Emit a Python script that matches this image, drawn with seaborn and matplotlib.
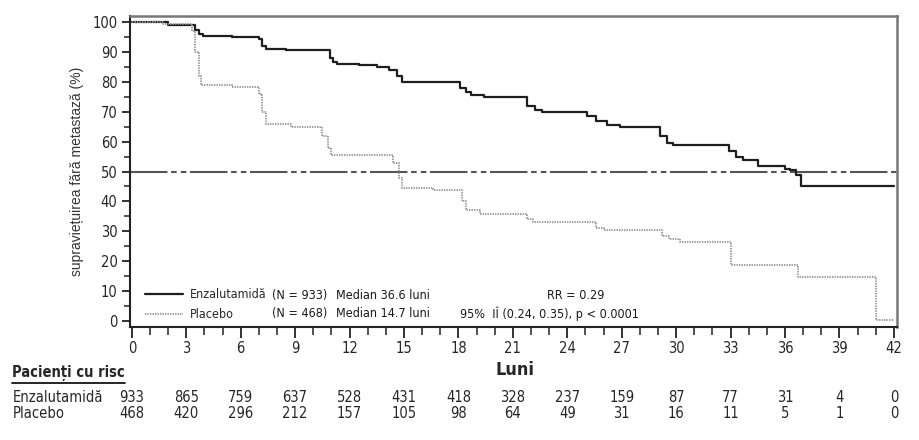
import matplotlib
matplotlib.use("Agg")
import matplotlib.pyplot as plt
import seaborn as sns
import pandas as pd
from matplotlib.lines import Line2D
from matplotlib.ticker import MultipleLocator

# ---- Data ----
enza_t = [0, 2.0, 3.5, 3.7, 3.9, 5.5, 7.0, 7.2, 7.4, 8.5, 10.9, 11.1, 11.3, 12.5, 13.5,
          14.2, 14.6, 14.9, 18.1, 18.4, 18.7, 19.4, 21.8, 22.2, 22.6, 25.1, 25.6, 26.2,
          26.9, 29.1, 29.5, 29.8, 32.9, 33.3, 33.7, 34.5, 36.0, 36.3, 36.6, 36.9, 42.0]
enza_s = [100, 99, 97.5, 96, 95.3, 95, 94.2, 92, 91, 90.6, 88, 86.5, 86.1, 85.5, 85,
          84, 82, 80.1, 78, 76.5, 75.6, 74.8, 72, 70.5, 69.8, 68.5, 67, 65.5,
          64.8, 62, 59.5, 58.9, 57, 55, 54, 52, 51, 50.6, 48.7, 45.3, 45.3]

plac_t = [0, 1.7, 3.3, 3.5, 3.7, 3.8, 5.5, 7.0, 7.2, 7.4, 8.8, 10.5, 10.8, 11.0, 14.4,
          14.7, 14.9, 16.6, 18.2, 18.4, 19.2, 21.8, 22.1, 25.6, 26.0, 29.2, 29.6, 30.2,
          33.0, 36.7, 41.0, 42.0]
plac_s = [100, 99.3, 97, 90, 82, 79, 78.3, 76, 70, 66, 64.8, 62, 58, 55.7, 53,
          48, 44.5, 43.7, 40, 37, 35.9, 34, 33.1, 31, 30.3, 28.5, 27.6, 26.4,
          18.7, 14.8, 0.2, 0.2]

risk_months = list(range(0, 43, 3))
risk_enza = [933, 865, 759, 637, 528, 431, 418, 328, 237, 159, 87, 77, 31, 4, 0]
risk_plac = [468, 420, 296, 212, 157, 105, 98, 64, 49, 31, 16, 11, 5, 1, 0]

df_enza = pd.DataFrame({"luni": enza_t, "supr": enza_s})
df_plac = pd.DataFrame({"luni": plac_t, "supr": plac_s})

# ---- Style ----
sns.set_style("white")
plt.rcParams["font.family"] = ["DejaVu Sans"]
plt.rcParams["font.stretch"] = "condensed"
plt.rcParams["lines.scale_dashes"] = False

W, H = 919, 440
fig = plt.figure(figsize=(W / 100, H / 100), dpi=100)
ax = fig.add_axes([130 / W, 1 - 327 / H, (897 - 130) / W, (327 - 15.5) / H])

sns.lineplot(data=df_enza, x="luni", y="supr", drawstyle="steps-post", color="#1e1e1e",
             linewidth=1.6, ax=ax, label="Enzalutamidă", estimator=None)
sns.lineplot(data=df_plac, x="luni", y="supr", drawstyle="steps-post", color="#959595",
             linewidth=1.3, linestyle=(0, (1, 0.8)), ax=ax, label="Placebo", estimator=None)

# median reference line
ax.axhline(50, color="#555555", linewidth=1.5, dashes=(27, 2.6, 4, 3, 4, 2.6), zorder=1)

ax.set_xlim(-0.1, 42.17)
ax.set_ylim(-2.0, 102.2)
ax.xaxis.set_major_locator(MultipleLocator(3))
ax.xaxis.set_minor_locator(MultipleLocator(1))
ax.yaxis.set_major_locator(MultipleLocator(10))
ax.yaxis.set_minor_locator(MultipleLocator(5))
ax.tick_params(axis="x", which="major", direction="out", length=8, width=1.3,
               color="#222222", labelsize=10.5, pad=2)
ax.tick_params(axis="x", which="minor", direction="out", length=6, width=1.1, color="#222222")
ax.tick_params(axis="y", which="major", direction="out", length=6, width=1.3,
               color="#222222", labelsize=10.5, pad=3)
ax.tick_params(axis="y", which="minor", direction="out", length=4, width=1.1, color="#222222")
ax.tick_params(left=True, bottom=True, which="both")

for side in ["left", "bottom"]:
    ax.spines[side].set_color("#222222")
    ax.spines[side].set_linewidth(1.5)
for side in ["top", "right"]:
    ax.spines[side].set_color("#777777")
    ax.spines[side].set_linewidth(1.8)

ax.set_ylabel("supraviețuirea fără metastază (%)", family=["Liberation Sans", "DejaVu Sans"],
              stretch="normal", fontsize=10, color="#333333")
ax.yaxis.set_label_coords(-0.06, 0.5)
ax.set_xlabel("Luni", fontsize=13, fontweight="bold")
ax.xaxis.set_label_coords(0.502, -0.11)

# legend
handles = ax.get_lines()[:2]
leg = ax.legend(handles=handles, labels=["Enzalutamidă", "Placebo"], loc="center left",
                bbox_to_anchor=(0.0196, 0.0722), frameon=False, fontsize=9,
                handlelength=3.0, handletextpad=0.6, labelspacing=0.55,
                borderpad=0, borderaxespad=0)

txt_kw = dict(fontsize=9, va="center", ha="left", color="#1a1a1a")
ax.text(7.75, 8.7, "(N = 933)", **txt_kw)
ax.text(7.75, 2.35, "(N = 468)", **txt_kw)
ax.text(11.28, 8.7, "Median 36.6 luni", **txt_kw)
ax.text(11.28, 2.35, "Median 14.7 luni", **txt_kw)
ax.text(22.9, 8.7, "RR = 0.29", **txt_kw)
ax.text(18.1, 2.35, "95%  IÎ (0.24, 0.35), p < 0.0001", **txt_kw)

# ---- Risk table ----
blend = matplotlib.transforms.blended_transform_factory(ax.transData, fig.transFigure)
for m, e, p in zip(risk_months, risk_enza, risk_plac):
    ax.text(m, 1 - 397 / H, str(e), transform=blend, ha="center", va="center",
            fontsize=10.5, clip_on=False)
    ax.text(m, 1 - 413 / H, str(p), transform=blend, ha="center", va="center",
            fontsize=10.5, clip_on=False)
fig.text(13 / W, 1 - 397 / H, "Enzalutamidă", ha="left", va="center", fontsize=10.5)
fig.text(13 / W, 1 - 413 / H, "Placebo", ha="left", va="center", fontsize=10.5)
hdr = fig.text(12 / W, 1 - 373 / H, "Pacienți cu risc", ha="left", va="center",
               fontsize=10.5, fontweight="bold")

fig.canvas.draw()
bb = hdr.get_window_extent().transformed(fig.transFigure.inverted())
fig.add_artist(Line2D([bb.x0, bb.x1], [bb.y0 - 1.5 / H, bb.y0 - 1.5 / H],
                      transform=fig.transFigure, color="black", linewidth=1.2))

fig.savefig("out.png", dpi=100)
